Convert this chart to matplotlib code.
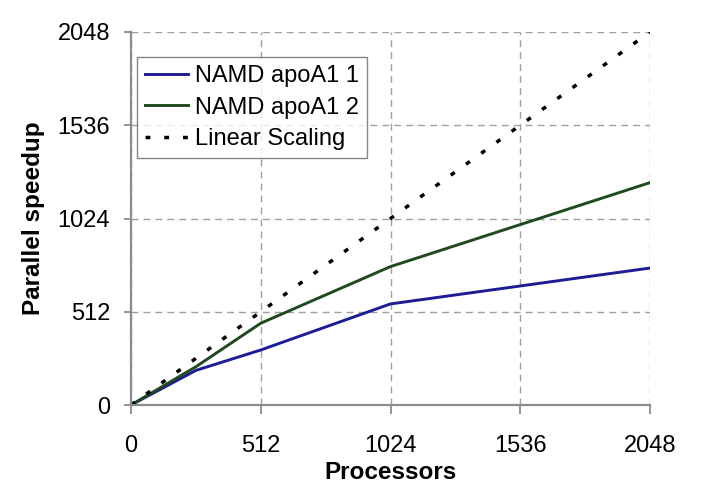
import matplotlib
matplotlib.use("Agg")
import matplotlib.pyplot as plt

plt.rcParams["font.family"] = ["Liberation Sans", "DejaVu Sans"]

# data
procs = [0, 256, 512, 1024, 2048]
apoa1_1 = [0, 190, 302, 555, 752]
apoa1_2 = [0, 210, 449, 760, 1221]
linear = [0, 2048]
ticks = [0, 512, 1024, 1536, 2048]

_GRID = "#a0a0a0"
_SPINE = "#8c8c8c"

fig = plt.figure(figsize=(7.2, 4.91), dpi=100, facecolor="white")
# axes box: x 131..650 px, y 32..405 px
ax = fig.add_axes([131 / 720, 86 / 491, 519 / 720, 373 / 491])

ax.plot(procs, apoa1_1, color="#1c1c94", lw=2.1, label="NAMD apoA1 1")
ax.plot(procs, apoa1_2, color="#1f4a1f", lw=2.1, label="NAMD apoA1 2")
ax.plot(linear, linear, color="black", lw=2.5, ls=(0, (1.4, 4.0)),
        label="Linear Scaling")

ax.set_xlim(0, 2048)
ax.set_ylim(0, 2048)
ax.set_xticks(ticks)
ax.set_yticks(ticks)
ax.tick_params(labelsize=17, direction="out", color=_SPINE, width=1.3)
ax.tick_params(axis="x", length=6.5, pad=15)
ax.tick_params(axis="y", length=5, pad=10)
ax.grid(True, color=_GRID, ls=(0, (5, 3.6)), lw=1)

for side in ("top", "right"):
    ax.spines[side].set_visible(False)
for side in ("left", "bottom"):
    ax.spines[side].set_color(_SPINE)
    ax.spines[side].set_linewidth(1.6)

ax.set_xlabel("Processors", fontsize=17.5, fontweight="bold", labelpad=3)
ax.set_ylabel("Parallel speedup", fontsize=17.5, fontweight="bold", labelpad=9)

leg = ax.legend(loc="upper left", bbox_to_anchor=(6 / 519, 348 / 373),
                borderaxespad=0, fontsize=17, frameon=True, fancybox=False,
                edgecolor="#666666", handlelength=1.8, handletextpad=0.3,
                borderpad=0.35, labelspacing=0.4)
leg.get_frame().set_linewidth(1)

fig.savefig("out.png", dpi=100, facecolor="white")
